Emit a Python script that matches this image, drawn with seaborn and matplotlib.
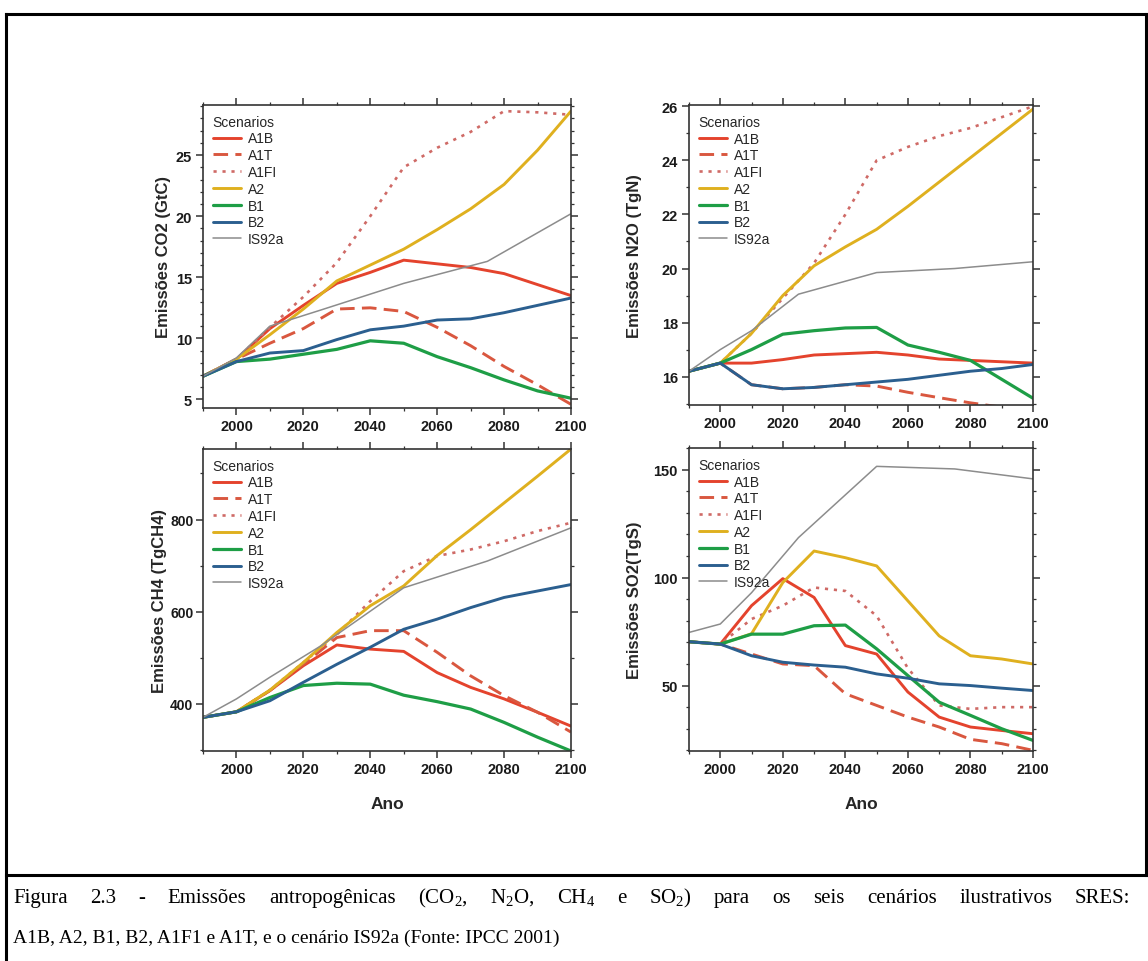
import pandas as pd
import matplotlib
matplotlib.use('Agg')
import matplotlib.pyplot as plt
import seaborn as sns
from matplotlib.lines import Line2D
from matplotlib.ticker import MultipleLocator

# years of the SRES scenarios and of IS92a
years = [1990, 2000, 2010, 2020, 2030, 2040, 2050, 2060, 2070, 2080, 2090, 2100]
is92a_years = [1990, 2000, 2010, 2025, 2050, 2075, 2100]
scenarios = ['A1B', 'A1T', 'A1FI', 'A2', 'B1', 'B2', 'IS92a']

# CO2 (GtC)
co2_a1b = [6.9, 8.3, 10.8, 12.7, 14.5, 15.4, 16.4, 16.1, 15.8, 15.3, 14.4, 13.5]
co2_a1t = [6.9, 8.3, 9.6, 10.8, 12.4, 12.5, 12.2, 10.9, 9.4, 7.7, 6.2, 4.6]
co2_a1fi = [6.9, 8.3, 10.9, 13.4, 16.2, 20.0, 24.0, 25.6, 26.9, 28.6, 28.5, 28.3]
co2_a2 = [6.9, 8.3, 10.3, 12.4, 14.7, 16.0, 17.3, 18.9, 20.6, 22.6, 25.4, 28.6]
co2_b1 = [6.9, 8.1, 8.3, 8.7, 9.1, 9.8, 9.6, 8.5, 7.6, 6.6, 5.7, 5.1]
co2_b2 = [6.9, 8.1, 8.8, 9.0, 9.9, 10.7, 11.0, 11.5, 11.6, 12.1, 12.7, 13.3]
co2_is92a = [6.9, 8.4, 11.0, 12.3, 14.5, 16.3, 20.2]

# N2O (TgN)
n2o_a1b = [16.2, 16.5, 16.5, 16.63, 16.8, 16.85, 16.9, 16.8, 16.65, 16.6, 16.55, 16.5]
n2o_a1t = [16.2, 16.5, 15.7, 15.55, 15.6, 15.7, 15.65, 15.42, 15.22, 15.03, 14.87, 14.8]
n2o_a1fi = [16.2, 16.5, 17.6, 18.9, 20.2, 22.0, 24.0, 24.5, 24.9, 25.2, 25.6, 26.0]
n2o_a2 = [16.2, 16.5, 17.6, 19.0, 20.1, 20.8, 21.45, 22.3, 23.2, 24.1, 25.0, 25.9]
n2o_b1 = [16.2, 16.5, 17.0, 17.57, 17.7, 17.8, 17.82, 17.17, 16.9, 16.6, 15.9, 15.2]
n2o_b2 = [16.2, 16.5, 15.7, 15.55, 15.6, 15.7, 15.8, 15.9, 16.05, 16.2, 16.3, 16.45]
n2o_is92a = [16.2, 17.0, 17.7, 19.05, 19.85, 20.0, 20.25]

# CH4 (TgCH4)
ch4_a1b = [371, 383, 429, 483, 528, 519, 514, 468, 436, 411, 382, 352]
ch4_a1t = [371, 383, 429, 486, 544, 559, 559, 512, 461, 418, 382, 339]
ch4_a1fi = [371, 383, 430, 490, 551, 623, 688, 721, 735, 753, 775, 793]
ch4_a2 = [371, 383, 430, 490, 555, 613, 656, 722, 778, 836, 894, 953]
ch4_b1 = [371, 383, 414, 440, 445, 443, 419, 405, 389, 360, 328, 298]
ch4_b2 = [371, 383, 407, 447, 486, 523, 562, 584, 609, 631, 645, 659]
ch4_is92a = [371, 411, 458, 525, 652, 710, 782]

# SO2 (TgS)
so2_a1b = [70.3, 69.2, 87.0, 99.5, 90.8, 68.5, 64.6, 47.0, 35.4, 30.8, 29.2, 27.7]
so2_a1t = [70.3, 69.2, 64.6, 60.0, 59.2, 46.2, 40.8, 35.4, 30.8, 25.1, 23.1, 20.0]
so2_a1fi = [70.3, 69.2, 80.8, 87.0, 95.4, 93.8, 82.3, 58.0, 40.8, 39.2, 40.0, 40.0]
so2_a2 = [70.3, 69.2, 74.0, 97.7, 112.3, 109.2, 105.4, 89.2, 73.0, 63.8, 62.3, 60.0]
so2_b1 = [70.3, 69.2, 73.8, 73.8, 77.7, 78.0, 67.0, 54.6, 42.3, 36.2, 30.0, 24.6]
so2_b2 = [70.3, 69.2, 63.8, 60.8, 59.5, 58.5, 55.4, 53.4, 50.8, 50.0, 48.8, 47.7]
so2_is92a = [74.6, 78.5, 93.0, 118.5, 151.5, 150.3, 145.7]

colors = {'A1B': '#e4432d', 'A1T': '#d9573f', 'A1FI': '#cf6a66', 'A2': '#dfb01f',
          'B1': '#1e9e46', 'B2': '#2b5f8f', 'IS92a': '#8c8c8c'}
dashes = {'A1B': '', 'A1T': (5, 2.5), 'A1FI': (1.2, 2.2), 'A2': '', 'B1': '', 'B2': '', 'IS92a': ''}
widths = {'A1B': 2.1, 'A1T': 2.1, 'A1FI': 1.9, 'A2': 2.1, 'B1': 2.3, 'B2': 2.1, 'IS92a': 1.1}


def long_frame(series):
    rows = []
    for name, vals in zip(scenarios, series):
        xs = is92a_years if name == 'IS92a' else years
        for x, v in zip(xs, vals):
            rows.append((name, x, v))
    return pd.DataFrame(rows, columns=['Cenário', 'Ano', 'Emissão'])


sns.set_style('ticks')
plt.rcParams['font.family'] = ['Liberation Sans', 'DejaVu Sans']
plt.rcParams['mathtext.default'] = 'regular'

fig = plt.figure(figsize=(11.48, 9.62), dpi=100)
W, H = 1148, 962


def px_axes(l, t, r, b):
    return fig.add_axes([l / W, 1 - b / H, (r - l) / W, (b - t) / H])


panels = [
    (px_axes(203, 106, 571, 409), [co2_a1b, co2_a1t, co2_a1fi, co2_a2, co2_b1, co2_b2, co2_is92a],
     'Emissões CO2 (GtC)', [5, 10, 15, 20, 25], (4.3, 29.1), 1, -0.087, ''),
    (px_axes(689, 106, 1033, 406), [n2o_a1b, n2o_a1t, n2o_a1fi, n2o_a2, n2o_b1, n2o_b2, n2o_is92a],
     'Emissões N2O (TgN)', [16, 18, 20, 22, 24, 26], (14.95, 26.05), 1, -0.137, ''),
    (px_axes(203, 450, 571, 752), [ch4_a1b, ch4_a1t, ch4_a1fi, ch4_a2, ch4_b1, ch4_b2, ch4_is92a],
     'Emissões CH4 (TgCH4)', [400, 600, 800], (298, 953), 100, -0.099, 'Ano'),
    (px_axes(689, 449, 1033, 752), [so2_a1b, so2_a1t, so2_a1fi, so2_a2, so2_b1, so2_b2, so2_is92a],
     'Emissões SO2(TgS)', [50, 100, 150], (19.7, 160), 10, -0.137, 'Ano'),
]

for ax, series, ylabel, yticks, ylim, yminor, ylab_x, xlabel in panels:
    df = long_frame(series)
    sns.lineplot(data=df, x='Ano', y='Emissão', hue='Cenário', style='Cenário', size='Cenário',
                 hue_order=scenarios, style_order=scenarios, size_order=scenarios,
                 palette=colors, dashes=dashes, sizes=widths, ax=ax, legend='full')
    leg = ax.get_legend()
    handles = leg.legend_handles
    labels = [t.get_text() for t in leg.get_texts()]
    ax.legend(handles, labels, title='Scenarios', loc='upper left', frameon=False,
              fontsize=10, title_fontsize=10, alignment='left', handlelength=2.0,
              handletextpad=0.55, labelspacing=0.2, borderaxespad=0.45, borderpad=0.25)

    ax.set_xlim(1990, 2100)
    ax.set_xticks(range(2000, 2101, 20))
    ax.xaxis.set_minor_locator(MultipleLocator(10))
    ax.set_ylim(*ylim)
    ax.set_yticks(yticks)
    ax.yaxis.set_minor_locator(MultipleLocator(yminor))
    ax.tick_params(which='both', direction='out', top=True, right=True, color='#333333')
    ax.tick_params(which='major', length=5, width=1.1, labelsize=10.5, pad=3, labelcolor='#1a1a1a')
    ax.tick_params(which='minor', length=2.5, width=0.9)
    for lbl in ax.get_xticklabels() + ax.get_yticklabels():
        lbl.set_fontweight('bold')
    for s in ax.spines.values():
        s.set_linewidth(1.2)
        s.set_color('#333333')
    ax.set_ylabel(ylabel, fontsize=12, fontweight='bold')
    ax.yaxis.set_label_coords(ylab_x, 0.5)
    ax.set_xlabel(xlabel, fontsize=12.5, fontweight='bold')
    ax.xaxis.set_label_coords(0.5, -0.15)

# CH4 labels have three digits: keep them tight to the axis
panels[2][0].tick_params(axis='y', which='major', labelsize=10, pad=2)


# page frame
def frame_line(x0, y0, x1, y1):
    fig.add_artist(Line2D([x0 / W, x1 / W], [1 - y0 / H, 1 - y1 / H], transform=fig.transFigure,
                          color='black', lw=2.2, solid_capstyle='projecting'))


frame_line(6, 15, 1148, 15)
frame_line(6, 15, 6, 962)
frame_line(1146, 15, 1146, 876)
frame_line(6, 876, 1148, 876)

# caption, first line justified
caption1 = ('Figura 2.3 - Emissões antropogênicas (CO$_2$, N$_2$O, CH$_4$ e SO$_2$) '
            'para os seis cenários ilustrativos SRES:')
caption2 = 'A1B, A2, B1, B2, A1F1 e A1T, e o cenário IS92a (Fonte: IPCC 2001)'

fig.canvas.draw()
renderer = fig.canvas.get_renderer()
words = caption1.split(' ')
texts = []
for w in words:
    t = fig.text(0, 1 - 903 / H, w, va='baseline', fontsize=15, family='Liberation Serif',
                 fontweight='bold' if w == '-' else 'normal', color='black')
    texts.append(t)
wpx = [t.get_window_extent(renderer).width for t in texts]
left, right = 13, 1130
gap = (right - left - sum(wpx)) / (len(words) - 1)
x = left
for t, w in zip(texts, wpx):
    t.set_x(x / W)
    x += w + gap
fig.text(13 / W, 1 - 943 / H, caption2, va='baseline', fontsize=14, family='Liberation Serif',
         color='black')

fig.savefig('out.png', dpi=100, facecolor='white')
